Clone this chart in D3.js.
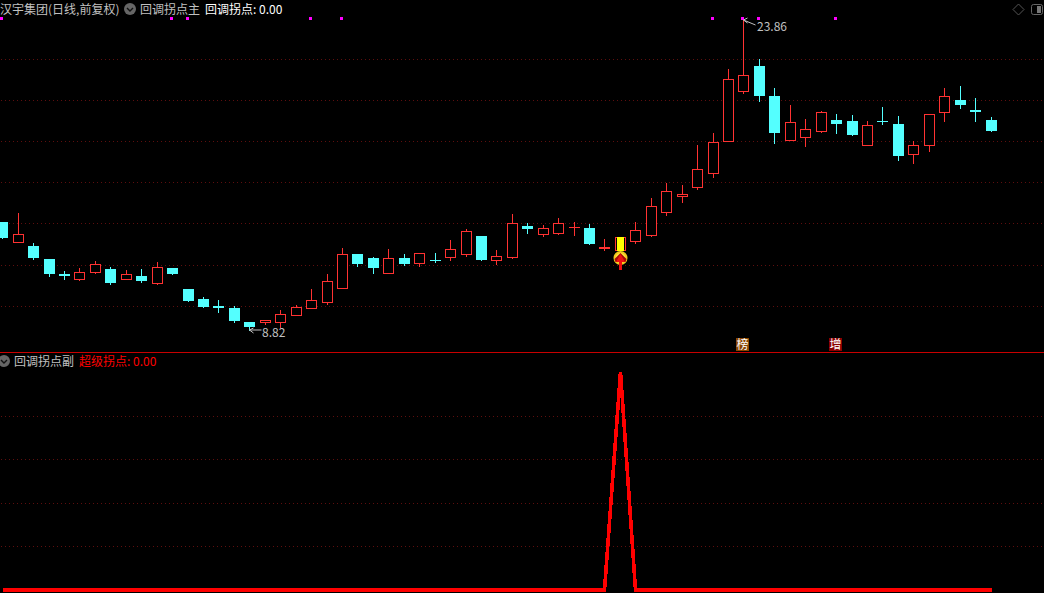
<!DOCTYPE html>
<html><head><meta charset="utf-8">
<script src="https://cdn.jsdelivr.net/npm/d3@7/dist/d3.min.js"></script>
<style>html,body{margin:0;padding:0;background:#000;overflow:hidden}svg{display:block}
text{font-family:"Noto Sans CJK SC","DejaVu Sans",sans-serif;font-size:12px}</style>
</head><body><svg id="c" width="1044" height="593"></svg>
<script>
const stockName="汉宇集团(日线,前复权)";
const highs=[14.07,14.51,13.06,12.29,11.71,11.85,12.19,11.90,11.76,11.81,12.14,11.85,10.84,10.46,10.31,10.02,9.25,9.35,9.83,10.07,10.84,11.56,12.82,12.53,12.38,12.77,12.53,12.58,12.58,13.20,13.73,13.40,12.72,14.46,14.02,13.93,14.27,14.07,13.98,13.25,13.35,14.07,15.23,15.95,15.86,17.78,18.36,21.45,23.86,21.93,20.53,19.71,19.04,19.42,19.28,19.23,18.94,19.62,19.18,17.98,19.28,20.53,20.63,20.05,19.13];
const lows=[13.25,13.06,12.24,11.42,11.27,11.23,11.56,11.03,11.27,11.13,11.03,11.52,10.22,9.93,9.68,9.20,8.82,9.11,8.96,9.54,9.88,10.07,10.84,11.90,11.56,11.56,11.95,11.90,12.10,12.19,12.38,12.19,12.00,12.29,13.49,13.35,13.45,13.40,12.96,12.67,12.67,13.01,13.35,14.36,14.99,15.62,16.19,17.93,20.24,19.86,17.83,17.98,17.69,18.36,18.32,18.22,17.74,18.75,17.01,16.87,17.45,18.89,19.52,18.89,18.41];
const opens=[14.07,13.06,12.91,12.29,11.56,11.27,11.61,11.81,11.27,11.47,11.08,11.85,10.84,10.36,10.02,9.93,9.25,9.20,9.20,9.54,9.88,10.17,10.84,12.53,12.34,11.56,12.34,12.05,12.24,12.34,12.48,13.40,12.19,12.34,13.88,13.45,13.49,13.78,13.78,12.77,12.67,13.11,13.40,14.51,15.28,15.71,16.39,17.93,20.34,21.59,20.15,17.98,18.12,18.41,18.99,18.94,17.74,18.94,18.80,17.30,17.74,19.33,19.95,19.47,18.99];
const closes=[13.30,13.49,12.34,11.56,11.47,11.66,12.05,11.13,11.56,11.23,11.90,11.56,10.26,9.97,9.93,9.30,9.01,9.35,9.64,9.97,10.31,11.23,12.53,12.05,11.85,12.34,12.05,12.58,12.19,12.77,13.64,12.24,12.43,14.02,13.73,13.78,14.02,13.83,13.01,12.87,13.35,13.69,14.84,15.57,15.42,16.63,17.93,20.97,21.16,20.15,18.36,18.89,18.56,19.38,18.80,18.27,18.75,18.89,17.25,17.78,19.28,20.15,19.71,19.38,18.46];
const superPoint=opens.map(()=>0);
superPoint[40]=100;
const signalIndex=40;
const topMarkers=[0,11,12,20,22,46,48,49,54];
const priceGrid=[21.93,19.95,17.98,16.00,14.02,12.00,10.02];
const lowerGrid=[80,60,40,20];
const maxIndex=48,minIndex=16,maxLabel="23.86",minLabel="8.82";
const badges=[{i:48,t:"榜",c:"#8a4500"},{i:54,t:"增",c:"#8a0000"}];

const RED="#ff3232",CYAN="#54ffff",GREY="#c0c0c0";
const svg=d3.select("#c");
svg.append("rect").attr("width",1044).attr("height",593).attr("fill","#000");
const x=d3.scaleLinear().domain([0,64]).range([2.75,991.04]);
const y=d3.scaleLinear().domain([23.86,8.82]).range([19,331]);
const y2=d3.scaleLinear().domain([0,100]).range([590,372]);
const px=i=>Math.floor(x(i));
const ry=v=>Math.round(y(v));

// grids
const grid=svg.append("g").attr("stroke","#5e0e0e").attr("stroke-dasharray","1 3").attr("shape-rendering","crispEdges");
grid.selectAll("line.a").data(priceGrid).join("line").attr("class","a").attr("x1",1).attr("x2",1044).attr("y1",d=>Math.round(y(d))+.5).attr("y2",d=>Math.round(y(d))+.5);
grid.selectAll("line.b").data(lowerGrid).join("line").attr("class","b").attr("x1",1).attr("x2",1044).attr("y1",d=>Math.round(y2(d))+.5).attr("y2",d=>Math.round(y2(d))+.5);

// separator
svg.append("line").attr("x1",0).attr("x2",1044).attr("y1",352.5).attr("y2",352.5).attr("stroke","#c80000").attr("shape-rendering","crispEdges");

// candles
const c=svg.append("g").attr("shape-rendering","crispEdges");
const rows=d3.range(opens.length);
const col=i=>closes[i]>=opens[i]?RED:CYAN;
c.selectAll("line").data(rows).join("line")
 .attr("x1",i=>px(i)+.5).attr("x2",i=>px(i)+.5)
 .attr("y1",i=>ry(highs[i])).attr("y2",i=>ry(lows[i]))
 .attr("stroke",col);
c.selectAll("rect.body").data(rows).join("rect").attr("class","body").each(function(i){
  const t=ry(Math.max(opens[i],closes[i])),b=ry(Math.min(opens[i],closes[i]));
  const up=closes[i]>=opens[i], s=d3.select(this), h=Math.max(b-t,1);
  if(up&&h>2){
    s.attr("x",px(i)-4.5).attr("y",t+.5).attr("width",10).attr("height",h-1)
     .attr("fill","#000").attr("stroke",RED);
  } else {
    s.attr("x",px(i)-5).attr("y",t).attr("width",11).attr("height",h).attr("fill",col(i));
  }
});
// signal bar: yellow core inside the red candle
c.append("rect").attr("x",px(signalIndex)-3).attr("y",ry(closes[signalIndex]))
 .attr("width",7).attr("height",ry(opens[signalIndex])-ry(closes[signalIndex])).attr("fill","#ffff00");

// magenta markers
svg.append("g").selectAll("rect").data(topMarkers).join("rect")
 .attr("x",i=>px(i)-2).attr("y",17).attr("width",3).attr("height",3).attr("fill","#ff00ff").attr("shape-rendering","crispEdges");

// signal
const sx=px(signalIndex)+.5;
const sy=ry(lows[signalIndex])+7;
svg.append("circle").attr("cx",sx).attr("cy",sy).attr("r",7).attr("fill","#f2c81e");
svg.append("circle").attr("cx",sx).attr("cy",sy).attr("r",5).attr("fill","#ffe83a");
svg.append("path").attr("d",`M${sx},${sy-5}L${sx+6},${sy+1}L${sx+5},${sy+4}L${sx-5},${sy+4}L${sx-6},${sy+1}Z`).attr("fill","#a80808");
svg.append("path").attr("d",`M${sx},${sy-4}L${sx+4.5},${sy+4}L${sx+1.5},${sy+4}L${sx+1.5},${sy+12}L${sx-1.5},${sy+12}L${sx-1.5},${sy+4}L${sx-4.5},${sy+4}Z`).attr("fill","#f01010");

// extreme labels
function extreme(i,val,label,dy,drop,txt,tby){
  const ax=px(i)+.5, ay=ry(val)+dy;
  const g=svg.append("g").attr("stroke",GREY).attr("fill","none");
  g.append("path").attr("d",`M${ax+12},${ay+drop}L${ax},${ay}M${ax+4},${ay-2}L${ax},${ay}L${ax+4},${ay+3}`);
  svg.append("text").attr("x",txt).attr("y",tby).attr("fill",GREY).text(label);
}
extreme(maxIndex,highs[maxIndex],maxLabel,1,5,757,31);
extreme(minIndex,lows[minIndex],minLabel,-1,0,262,336.5);

// badges
badges.forEach(b=>{
  const bx=px(b.i)-7;
  svg.append("rect").attr("x",bx).attr("y",338).attr("width",13).attr("height",13).attr("fill",b.c);
  svg.append("text").attr("x",bx+6.5).attr("y",349).attr("text-anchor","middle").attr("fill","#fff").text(b.t);
});

// lower line
svg.append("path").datum(superPoint)
 .attr("d",d3.line().x((d,i)=>px(i)+.5).y(d=>y2(d)))
 .attr("fill","none").attr("stroke","#ff0000").attr("stroke-width",3.6).attr("stroke-linejoin","miter").attr("stroke-miterlimit",4).attr("shape-rendering","crispEdges");

// header
function chevron(cx,cy){
  svg.append("circle").attr("cx",cx).attr("cy",cy).attr("r",6).attr("fill","#666");
  svg.append("path").attr("d",`M${cx-3},${cy-1}L${cx},${cy+2}L${cx+3},${cy-1}`).attr("fill","none").attr("stroke","#111").attr("stroke-width",1.4);
}
const T=(tx,ty,t,f)=>svg.append("text").attr("x",tx).attr("y",ty).attr("fill",f).text(t);
T(0,14,stockName,GREY);
chevron(130,9);
T(140,14,"回调拐点主",GREY);
T(205,14,"回调拐点: 0.00","#fff");
chevron(4,361);
T(14,366,"回调拐点副",GREY);
T(79,366,"超级拐点: 0.00","#ff0000");

// window icons
svg.append("path").attr("d","M1018.5,4L1024,9.5L1018.5,15L1013,9.5Z").attr("fill","none").attr("stroke","#555");
svg.append("rect").attr("x",1031.5).attr("y",4.5).attr("width",11).attr("height",10).attr("rx",2).attr("fill","none").attr("stroke","#666");
svg.append("rect").attr("x",1037).attr("y",6).attr("width",4).attr("height",7).attr("fill","#777");
</script></body></html>
